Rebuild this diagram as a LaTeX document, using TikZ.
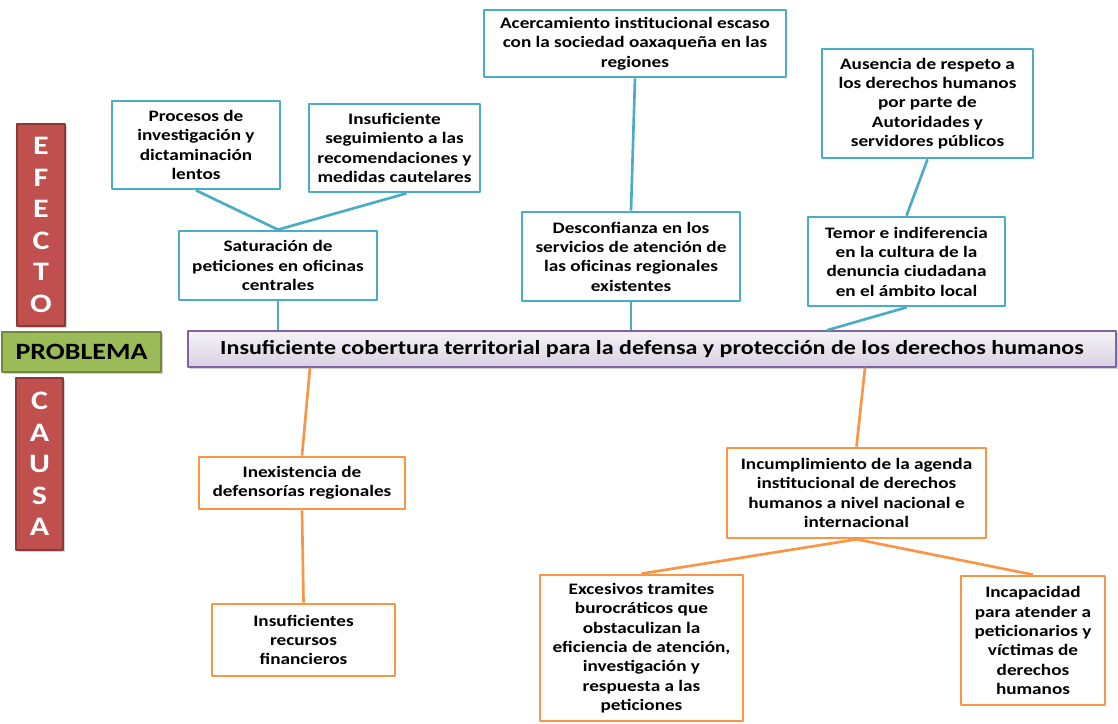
\documentclass[tikz,border=0pt]{standalone}
\usepackage{fontspec}
\setmainfont{Carlito}[FakeStretch=1.2]
\usetikzlibrary{shadows}
\definecolor{efblue}{HTML}{4BACC6}
\definecolor{caorange}{HTML}{F79646}
\definecolor{sidered}{HTML}{C0504D}
\definecolor{sidereddk}{HTML}{8C3836}
\definecolor{probgreen}{HTML}{9BBB59}
\definecolor{probgreendk}{HTML}{71893F}
\definecolor{barpurple}{HTML}{8064A2}
\begin{document}
\begin{tikzpicture}[x=.75pt,y=-.75pt,line join=round,
  txt/.style={font=\fontsize{12}{14.5}\selectfont\bfseries,align=center,inner sep=1pt},
  efbox/.style={txt,draw=efblue,line width=2pt,fill=white},
  cabox/.style={txt,draw=caorange,line width=2pt,fill=white},
  shade/.style={drop shadow={shadow xshift=1.5pt,shadow yshift=-1.5pt,opacity=.35}},
  side/.style={draw=sidereddk,line width=1.5pt,fill=sidered,text=white,align=center,shade,
    font=\fontsize{20}{23.6}\selectfont\bfseries,minimum width=36pt},
  eflink/.style={draw=efblue,line width=2pt},
  calink/.style={draw=caorange,line width=2pt}]
\useasboundingbox (0,0) rectangle (1118,724);
% columna izquierda
\node[side,minimum height=151.5pt] (efecto) at (41,225) {E\\F\\E\\C\\T\\O};
\node[side,minimum height=129pt,minimum width=35.25pt] (causa) at (39.5,464) {C\\A\\U\\S\\A};
\node[draw=probgreendk,line width=1.5pt,fill=probgreen,minimum width=119.25pt,minimum height=30pt,shade,
  font=\fontsize{17.5}{20}\selectfont\bfseries] (problema) at (81.5,352) {PROBLEMA};
% problema central
\node[draw=barpurple,line width=1pt,top color=barpurple!8,bottom color=barpurple!30,shade,
  minimum width=696pt,minimum height=27pt,font=\fontsize{15}{18}\selectfont\bfseries]
  (bar) at (652,349) {Insuficiente cobertura territorial para la defensa y protección de los derechos humanos};
% efectos
\node[efbox,minimum width=126pt,minimum height=66pt] (procesos) at (196,145) {Procesos de\\investigación y\\dictaminación\\lentos};
\node[efbox,minimum width=128.25pt,minimum height=66pt] (seguim) at (394.5,148) {Insuficiente\\seguimiento a las\\recomendaciones y\\medidas cautelares};
\node[efbox,minimum width=148.5pt,minimum height=51.75pt] (satur) at (278,265.5) {Saturación de\\peticiones en oficinas\\centrales};
\node[efbox,minimum width=226.5pt,minimum height=50.25pt] (acerc) at (635,43.5) {Acercamiento institucional escaso\\con la sociedad oaxaqueña en las\\regiones};
\node[efbox,minimum width=163.5pt,minimum height=66.75pt] (descon) at (631,256.5) {Desconfianza  en los\\servicios de atención de\\las oficinas regionales\\existentes};
\node[efbox,minimum width=158.25pt,minimum height=81.75pt] (ausencia) at (927.5,103.5) {Ausencia de respeto a\\los derechos humanos\\por parte de\\Autoridades y\\servidores públicos};
\node[efbox,minimum width=147.75pt,minimum height=66.75pt] (temor) at (906.5,261.5) {Temor e indiferencia\\en la cultura de la\\denuncia ciudadana\\en el ámbito local};
% causas
\node[cabox,minimum width=154.5pt,minimum height=39pt] (inexist) at (302,483) {Inexistencia de\\defensorías regionales};
\node[cabox,minimum width=137.25pt,minimum height=54pt] (recursos) at (303.5,640) {Insuficientes\\recursos\\financieros};
\node[cabox,minimum width=194.25pt,minimum height=67.5pt] (incumpl) at (856.5,493) {Incumplimiento de la agenda\\institucional de derechos\\humanos  a nivel nacional e\\internacional};
\node[cabox,minimum width=152.25pt,minimum height=109.5pt] (excesivos) at (641.5,648) {Excesivos tramites\\burocráticos que\\obstaculizan la\\eficiencia de atención,\\investigación y\\respuesta a las\\peticiones};
\node[cabox,minimum width=108pt,minimum height=96.75pt] (incapac) at (1033,640.5) {Incapacidad\\para atender a\\peticionarios y\\víctimas de\\derechos\\humanos};
% conectores
\draw[eflink] (procesos.south)--(satur.north)--([xshift=9pt]seguim.south);
\draw[eflink] (satur.south)--(satur.south|-bar.north);
\draw[eflink] (acerc.south)--(descon.north);
\draw[eflink] (descon.south)--(descon.south|-bar.north);
\draw[eflink] (ausencia.south)--(temor.north);
\draw[eflink] (temor.south)--([xshift=131pt]bar.north);
\draw[calink] ([xshift=-256.5pt]bar.south)--(inexist.north);
\draw[calink] (inexist.south)--(recursos.north);
\draw[calink] ([xshift=159.75pt]bar.south)--(incumpl.north);
\draw[calink] (excesivos.north)--(incumpl.south)--(incapac.north);
\end{tikzpicture}
\end{document}
